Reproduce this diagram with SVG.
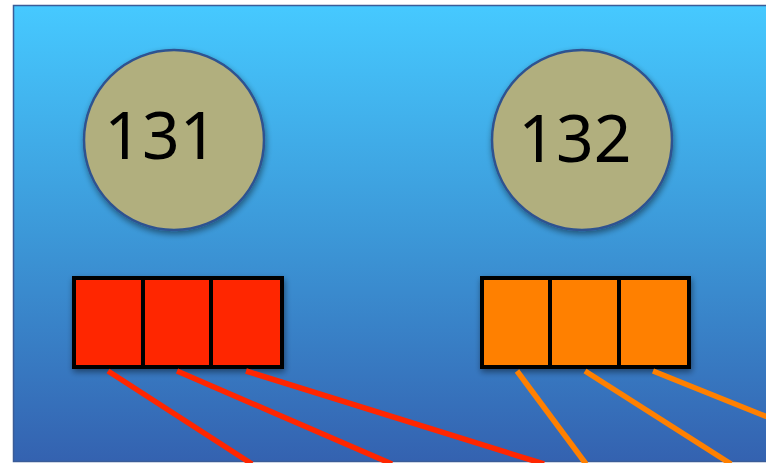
<svg xmlns="http://www.w3.org/2000/svg" width="766" height="463" viewBox="0 0 766 463">
<defs>
<linearGradient id="bg" x1="0" y1="0" x2="0" y2="1">
<stop offset="0" stop-color="#46C9FF"/>
<stop offset="0.5" stop-color="#3C98D8"/>
<stop offset="1" stop-color="#3462B0"/>
</linearGradient>
<filter id="sh" x="-20%" y="-20%" width="150%" height="150%">
<feGaussianBlur in="SourceAlpha" stdDeviation="3"/>
<feOffset dx="1" dy="3" result="b"/>
<feComponentTransfer><feFuncA type="linear" slope="0.45"/></feComponentTransfer>
<feMerge><feMergeNode/><feMergeNode in="SourceGraphic"/></feMerge>
</filter>
</defs>
<style>
.circ{fill:#B1AF7E;stroke:#2E5290;stroke-width:2.5}
.num{font-family:"Noto Sans","Open Sans",sans-serif;font-size:66px;fill:#000;text-anchor:middle}
.red{fill:#FF2600;stroke:#000;stroke-width:4}
.org{fill:#FF8000;stroke:#000;stroke-width:4}
.lr{stroke:#FF2600;stroke-width:5.5;fill:none}
.lo{stroke:#FF8000;stroke-width:5.5;fill:none}
</style>
<rect x="0" y="0" width="766" height="463" fill="#FFFFFF"/>
<rect x="13.5" y="5.5" width="760" height="456" fill="url(#bg)" stroke="#3A5C98" stroke-width="1.5"/>
<g id="node-131" filter="url(#sh)">
<circle class="circ" cx="174" cy="140" r="90"/>
<text class="num" x="161" y="159">131</text>
</g>
<g id="node-132" filter="url(#sh)">
<circle class="circ" cx="582" cy="140" r="90"/>
<text class="num" x="575" y="162">132</text>
</g>
<g id="red-boxes" filter="url(#sh)">
<rect class="red" x="74" y="278" width="69" height="89"/>
<rect class="red" x="143" y="278" width="69" height="89"/>
<rect class="red" x="211" y="278" width="71" height="89"/>
</g>
<g id="orange-boxes" filter="url(#sh)">
<rect class="org" x="482" y="278" width="68" height="89"/>
<rect class="org" x="550" y="278" width="69" height="89"/>
<rect class="org" x="619" y="278" width="70" height="89"/>
</g>
<g id="connectors">
<line class="lr" x1="108" y1="371" x2="252" y2="464"/>
<line class="lr" x1="177" y1="371" x2="392" y2="464"/>
<line class="lr" x1="246" y1="371" x2="544" y2="464"/>
<line class="lo" x1="517" y1="371" x2="586" y2="464"/>
<line class="lo" x1="585" y1="371" x2="731" y2="464"/>
<line class="lo" x1="653" y1="371" x2="770" y2="418"/>
</g>
</svg>
